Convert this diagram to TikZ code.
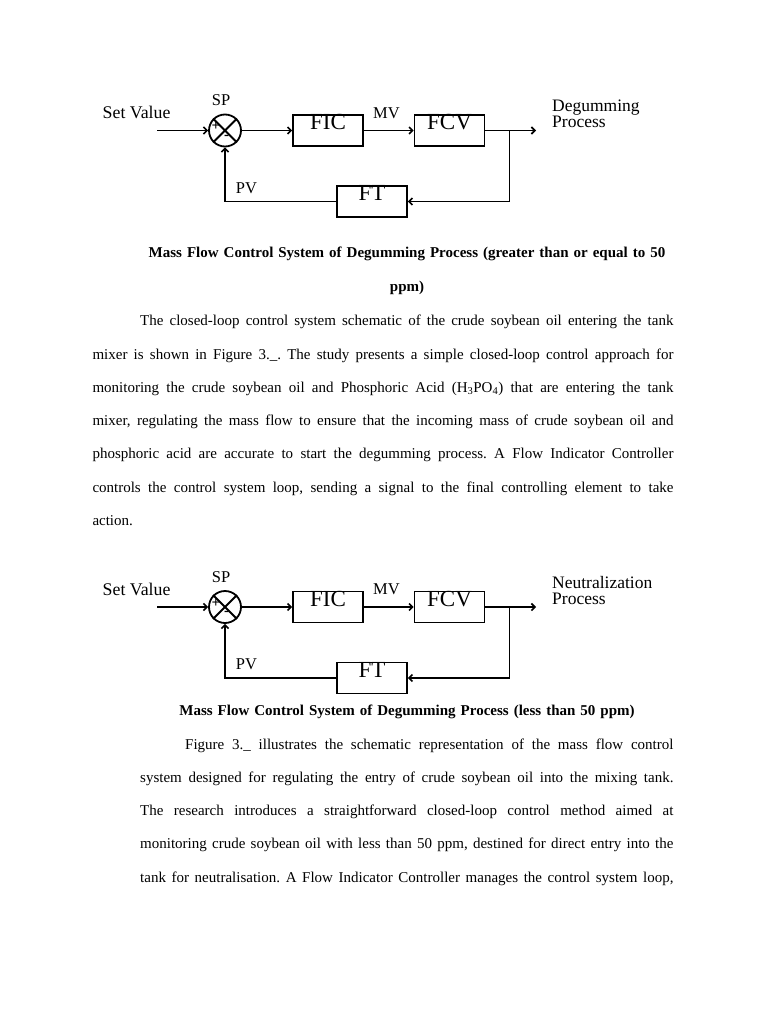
\documentclass[tikz,border=0pt]{standalone}
\usepackage{fontspec}
\setmainfont{Liberation Serif}
\usetikzlibrary{arrows.meta, positioning, calc}
\frenchspacing

\begin{document}
\begin{tikzpicture}[
    x=1pt, y=-1pt,
    box/.style={draw, line width=1.6pt, inner sep=0pt, minimum width=70pt,
                text height=15pt, text depth=16pt, font=\fontsize{23}{23}\selectfont},
    sumjn/.style={draw, circle, line width=1.8pt, minimum size=32pt, inner sep=0pt},
    arrow/.style={-{Straight Barb[length=3.5pt, width=7pt]}, line width=1.6pt},
    wire/.style={line width=1.8pt},
    lbl/.style={anchor=base, inner sep=0pt, font=\fontsize{16.5}{16.5}\selectfont},
    proc/.style={anchor=base west, inner sep=0pt, align=left, text width=130pt,
                 font=\fontsize{17.5}{15.5}\selectfont},
    sign/.style={inner sep=0pt, font=\fontsize{15}{15}\selectfont\bfseries},
    capt/.style={anchor=base, inner sep=0pt, align=center, text width=560pt,
                 font=\fontsize{15}{34}\selectfont\bfseries},
    para/.style={anchor=base west, inner sep=0pt, align=left,
                 font=\fontsize{15}{33.3}\selectfont}
]
  \useasboundingbox[fill=white] (0,0) rectangle (768,1024);

  % Nodes (upper loop)
  \coordinate (in1) at (157,130.5);
  \node[sumjn] (sum1) at (225,130.5) {};
  \node[box] (fic1) at (328,130.5) {FIC};
  \node[box] (fcv1) at (449.5,130.5) {FCV};
  \node[box] (ft1) at (372,201.5) {FT};
  \coordinate (br1) at (509.5,130.5);
  \coordinate (out1) at (536,130.5);
  \node[sign] (plus1) at (216,126.5) {+};
  \node[sign] (minus1) at (226.5,137) {-};
  \node[lbl, anchor=base west, font=\fontsize{17.8}{17.8}\selectfont] (set1) at (102.5,119) {Set Value};
  \node[lbl] (sp1) at (221,105.7) {SP};
  \node[lbl] (mv1) at (386.5,118.3) {MV};
  \node[lbl] (pv1) at (246.5,193.3) {PV};
  \node[proc] (deg1) at (552,112) {Degumming\\Process};

  % Arrows (upper loop)
  \draw[wire] (sum1.north west) -- (sum1.south east)
              (sum1.north east) -- (sum1.south west);
  \draw[arrow] (in1) -- (sum1.west);
  \draw[arrow] (sum1.east) -- (fic1.west);
  \draw[arrow] (fic1.east) -- (fcv1.west);
  \draw[arrow] (fcv1.east) -- (out1);
  \draw[arrow] (br1) |- (ft1.east);
  \draw[arrow] (ft1.west) -| (sum1.south);

  % Caption and text
  \node[capt] (cap1) at (407,257.7)
      {Mass Flow Control System of Degumming Process (greater than or equal to 50\\ppm)};
  \node[para, text width=581pt] (par1) at (92.3,325.7) {%
    \spaceskip=0pt \xspaceskip=0pt
    \hspace*{47.7pt}\makebox[533.3pt][s]{The closed-loop control system schematic of the crude soybean oil entering the tank}\\
    \makebox[581pt][s]{mixer is shown in Figure 3.\_. The study presents a simple closed-loop control approach for}\\
    \makebox[581pt][s]{monitoring the crude soybean oil and Phosphoric Acid (H\textsubscript{3}PO\textsubscript{4}) that are entering the tank}\\
    \makebox[581pt][s]{mixer, regulating the mass flow to ensure that the incoming mass of crude soybean oil and}\\
    \makebox[581pt][s]{phosphoric acid are accurate to start the degumming process. A Flow Indicator Controller}\\
    \makebox[581pt][s]{controls the control system loop, sending a signal to the final controlling element to take}\\
    action.};

  % Nodes (lower loop)
  \coordinate (in2) at (157,607);
  \node[sumjn] (sum2) at (225,607) {};
  \node[box] (fic2) at (328,607) {FIC};
  \node[box] (fcv2) at (449.5,607) {FCV};
  \node[box] (ft2) at (372,678) {FT};
  \coordinate (br2) at (509.5,607);
  \coordinate (out2) at (536,607);
  \node[sign] (plus2) at (216,603) {+};
  \node[sign] (minus2) at (226.5,613.5) {-};
  \node[lbl, anchor=base west, font=\fontsize{17.8}{17.8}\selectfont] (set2) at (102.5,595.5) {Set Value};
  \node[lbl] (sp2) at (221,582.2) {SP};
  \node[lbl] (mv2) at (386.5,594.8) {MV};
  \node[lbl] (pv2) at (246.5,669.8) {PV};
  \node[proc] (neu2) at (552,588.5) {Neutralization\\Process};

  % Arrows (lower loop)
  \draw[wire] (sum2.north west) -- (sum2.south east)
              (sum2.north east) -- (sum2.south west);
  \draw[arrow] (in2) -- (sum2.west);
  \draw[arrow] (sum2.east) -- (fic2.west);
  \draw[arrow] (fic2.east) -- (fcv2.west);
  \draw[arrow] (fcv2.east) -- (out2);
  \draw[arrow] (br2) |- (ft2.east);
  \draw[arrow] (ft2.west) -| (sum2.south);

  % Caption and text
  \node[capt] (cap2) at (407,715.7)
      {Mass Flow Control System of Degumming Process (less than 50 ppm)};
  \node[para, text width=533.3pt] (par2) at (140,749) {%
    \spaceskip=0pt \xspaceskip=0pt
    \hspace*{45pt}\makebox[488.3pt][s]{Figure 3.\_ illustrates the schematic representation of the mass flow control}\\
    \makebox[533.3pt][s]{system designed for regulating the entry of crude soybean oil into the mixing tank.}\\
    \makebox[533.3pt][s]{The research introduces a straightforward closed-loop control method aimed at}\\
    \makebox[533.3pt][s]{monitoring crude soybean oil with less than 50 ppm, destined for direct entry into the}\\
    \makebox[533.3pt][s]{tank for neutralisation. A Flow Indicator Controller manages the control system loop,}};
\end{tikzpicture}
\end{document}
